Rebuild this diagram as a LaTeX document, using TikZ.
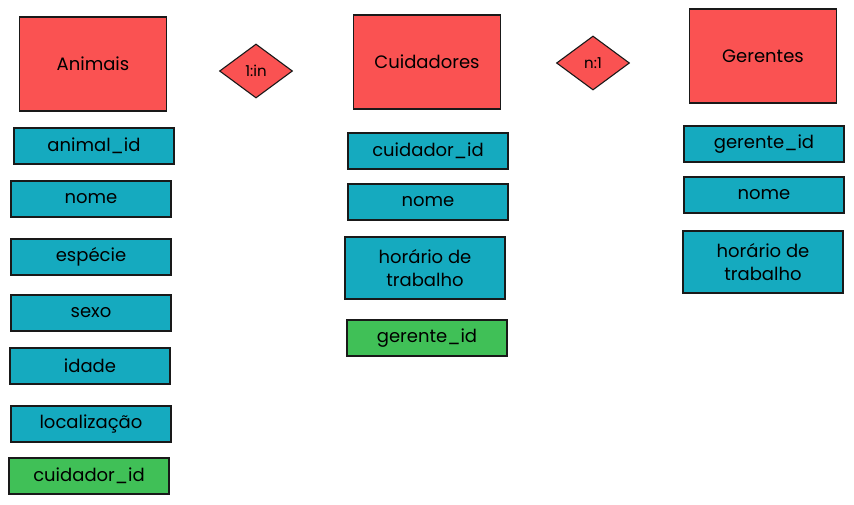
\documentclass[tikz,border=0pt]{standalone}
\usepackage{fontspec}
\setmainfont{Poppins}
\usetikzlibrary{shapes.geometric}

\definecolor{entred}{HTML}{FA5252}
\definecolor{attrteal}{HTML}{15AABF}
\definecolor{keygreen}{HTML}{40C057}

\tikzset{
  entity/.style={draw=black!90, line width=1.1pt, fill=entred, minimum width=147pt, minimum height=94pt, inner sep=0pt, font=\fontsize{18}{22}\selectfont},
  attr/.style={draw=black!90, line width=1.1pt, fill=attrteal, minimum width=160pt, minimum height=36pt, inner sep=0pt, align=center, font=\fontsize{18}{23}\selectfont},
  fkey/.style={attr, fill=keygreen},
  relation/.style={draw=black!90, line width=1.1pt, fill=entred, shape=diamond, minimum width=73pt, minimum height=54pt, inner sep=0pt, font=\fontsize{15}{17}\selectfont}
}

\begin{document}
\begin{tikzpicture}[x=1pt, y=-1pt]
\useasboundingbox (0,0) rectangle (854,504);

\node[entity] (animais) at (93,64) {Animais};
\node[relation] (rel1n) at (256,71) {1:in};
\node[entity] (cuidadores) at (427,62) {Cuidadores};
\node[relation] (reln1) at (593,63) {n:1};
\node[entity] (gerentes) at (763,56) {Gerentes};

\node[attr] (animalid) at (94,146) {animal\_id};
\node[attr] (animalnome) at (91,199) {nome};
\node[attr] (especie) at (91,257) {espécie};
\node[attr] (sexo) at (91,313) {sexo};
\node[attr] (idade) at (90,366) {idade};
\node[attr] (localizacao) at (91,424) {localização};
\node[fkey] (animalcuid) at (89,476) {cuidador\_id};

\node[attr] (cuidid) at (428,151) {cuidador\_id};
\node[attr] (cuidnome) at (428,202) {nome};
\node[attr, minimum height=62pt] (cuidhorario) at (425,268) {horário de\\trabalho};
\node[fkey] (cuidger) at (427,338) {gerente\_id};

\node[attr] (gerid) at (764,144) {gerente\_id};
\node[attr] (gernome) at (764,195) {nome};
\node[attr, minimum height=62pt] (gerhorario) at (763,262) {horário de\\trabalho};
\end{tikzpicture}
\end{document}
